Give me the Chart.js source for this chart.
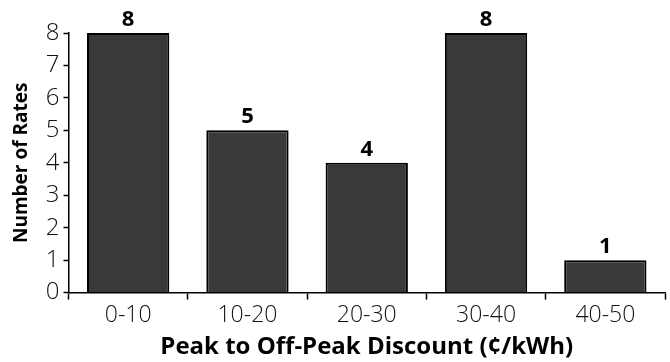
<!DOCTYPE html>
<html>
<head>
<meta charset="utf-8">
<script src="https://cdn.jsdelivr.net/npm/chart.js@4/dist/chart.umd.min.js"></script>
<style>
  html, body { margin: 0; padding: 0; background: #fff; }
  #wrap { width: 670px; height: 362px; }
</style>
</head>
<body>
<div id="wrap"><canvas id="grafica"></canvas></div>
<script>
// Datos
var categorias = ['0-10', '10-20', '20-30', '30-40', '40-50'];
var numeroTarifas = [8, 5, 4, 8, 1];
var ticksY = [0, 1, 2, 3, 4, 5, 6, 7, 8];

// Plugin sencillo para poner el valor encima de cada barra
var etiquetasBarras = {
    id: 'etiquetasBarras',
    afterDatasetsDraw: function (chart) {
        var ctx = chart.ctx;
        var meta = chart.getDatasetMeta(0);
        ctx.save();
        ctx.fillStyle = '#000';
        ctx.font = 'bold 22px "Open Sans"';
        ctx.textAlign = 'center';
        ctx.textBaseline = 'alphabetic';
        meta.data.forEach(function (bar, i) {
            ctx.fillText(String(numeroTarifas[i]), bar.x, bar.y - 7);
        });
        ctx.restore();
    }
};

var grafica = new Chart(document.getElementById('grafica'), {
    type: 'bar',
    data: {
        labels: categorias,
        datasets: [{
            data: numeroTarifas,
            backgroundColor: '#393939',
            borderColor: '#000',
            borderWidth: 2,
            barPercentage: 0.69,
            categoryPercentage: 1
        }]
    },
    options: {
        responsive: true,
        maintainAspectRatio: false,
        animation: false,
        layout: { padding: { top: 33, right: 5, left: 10, bottom: 0 } },
        plugins: {
            legend: { display: false },
            tooltip: { enabled: false }
        },
        scales: {
            x: {
                grid: {
                    offset: true,
                    drawOnChartArea: false,
                    color: '#000',
                    tickLength: 7,
                    tickWidth: 1.5
                },
                border: { color: '#000', width: 1.5 },
                ticks: {
                    color: '#111',
                    font: { family: 'Open Sans', size: 23, weight: '300' },
                    padding: 2
                },
                title: {
                    display: true,
                    text: 'Peak to Off-Peak Discount (¢/kWh)',
                    color: '#000',
                    font: { family: 'Open Sans', size: 24, weight: 'bold' },
                    padding: { top: 2, bottom: 0 }
                }
            },
            y: {
                min: 0,
                max: 8,
                afterBuildTicks: function (axis) {
                    axis.ticks = ticksY.map(function (v) { return { value: v }; });
                },
                grid: {
                    drawOnChartArea: false,
                    color: '#000',
                    tickLength: 5,
                    tickWidth: 1.5
                },
                border: { color: '#000', width: 1.5 },
                ticks: {
                    color: '#111',
                    font: { family: 'Open Sans', size: 24, weight: '300' },
                    padding: 4
                },
                title: {
                    display: true,
                    text: 'Number of Rates',
                    color: '#000',
                    font: { family: 'Open Sans', size: 19, weight: 'bold' },
                    padding: { top: 0, bottom: 9 }
                }
            }
        }
    },
    plugins: [etiquetasBarras]
});
</script>
</body>
</html>
